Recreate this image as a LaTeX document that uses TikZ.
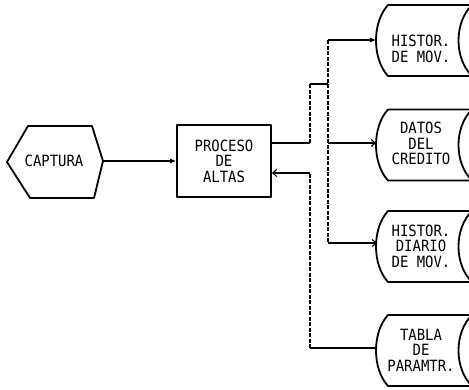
\documentclass[tikz,border=0pt]{standalone}
\usepackage{fontspec}
\newfontfamily\dotfont[FakeStretch=0.9]{DejaVu Sans Mono}
\usetikzlibrary{arrows.meta}
\begin{document}
\begin{tikzpicture}[x=1pt,y=-1pt,
  lbl/.style={font=\dotfont\fontsize{15.5}{15.5}\selectfont, align=center, inner sep=0pt},
  boxline/.style={line width=1.8pt, line join=round},
  conn/.style={line width=1.1pt},
  bus/.style={line width=1.1pt, dash pattern=on 4pt off 1.5pt},
  fa/.style={-{Latex[length=6pt,width=5pt]}},
  ba/.style={-{Straight Barb[length=4pt,width=7pt]}},
  stor/.pic={\draw[boxline] (0,-35.5) -- (84,-35.5) .. controls (66,-18) and (66,18) .. (84,35.5) -- (0,35.5) .. controls (-16,18) and (-16,-18) .. (0,-35.5) -- cycle;}
]
\useasboundingbox (0,0) rectangle (469,389);
\clip (0,0) rectangle (469,389);

% CAPTURA hexagon
\draw[boxline] (7,162) -- (28,126) -- (92,126) -- (103,161) -- (94,198) -- (30,198) -- cycle;
\node[lbl] (captura) at (54,161) {CAPTURA};
\coordinate (capR) at (103,161);

% Process box
\node[lbl, draw, boxline, minimum width=94pt, minimum height=72pt] (proc) at (224,161) {PROCESO\\DE\\ALTAS};

% Storage shapes
\pic at (388,40.5) {stor};
\pic at (388,145) {stor};
\pic at (388,246.5) {stor};
\pic at (388,350.5) {stor};
\node[lbl] (s1) at (421,49) {HISTOR.\\DE MOV.};
\node[lbl] (s2) at (421,143.5) {DATOS\\DEL\\CREDITO};
\node[lbl] (s3) at (421,246) {HISTOR.\\DIARIO\\DE MOV.};
\node[lbl] (s4) at (421,350) {TABLA\\DE\\PARAMTR.};
\coordinate (s1in) at (376,40);
\coordinate (s2in) at (376,143);
\coordinate (s3in) at (377,243);
\coordinate (s4in) at (377,348);

% Connectors
\draw[conn, fa] (capR) -- (proc.west);

\coordinate (j1) at (310,143);
\coordinate (j2) at (310,84);
\coordinate (j3) at (328,84);
\draw[conn] (proc.east |- j1) -- (j1);
\draw[bus] (j1) -- (j2);
\draw[conn] (j2) -- (j3);

\coordinate (b1) at (328,40);
\coordinate (b2) at (328,143);
\coordinate (b3) at (328,243);
\draw[bus] (b1) -- (b3);
\draw[conn, fa] (b1) -- (s1in);
\draw[conn, ba] (b2) -- (s2in);
\draw[conn, ba] (b3) -- (s3in);

\coordinate (r1) at (310,348);
\coordinate (r2) at (310,173);
\draw[conn] (s4in) -- (r1);
\draw[bus] (r1) -- (r2);
\draw[conn, ba] (r2) -- (proc.east |- r2);
\end{tikzpicture}
\end{document}
